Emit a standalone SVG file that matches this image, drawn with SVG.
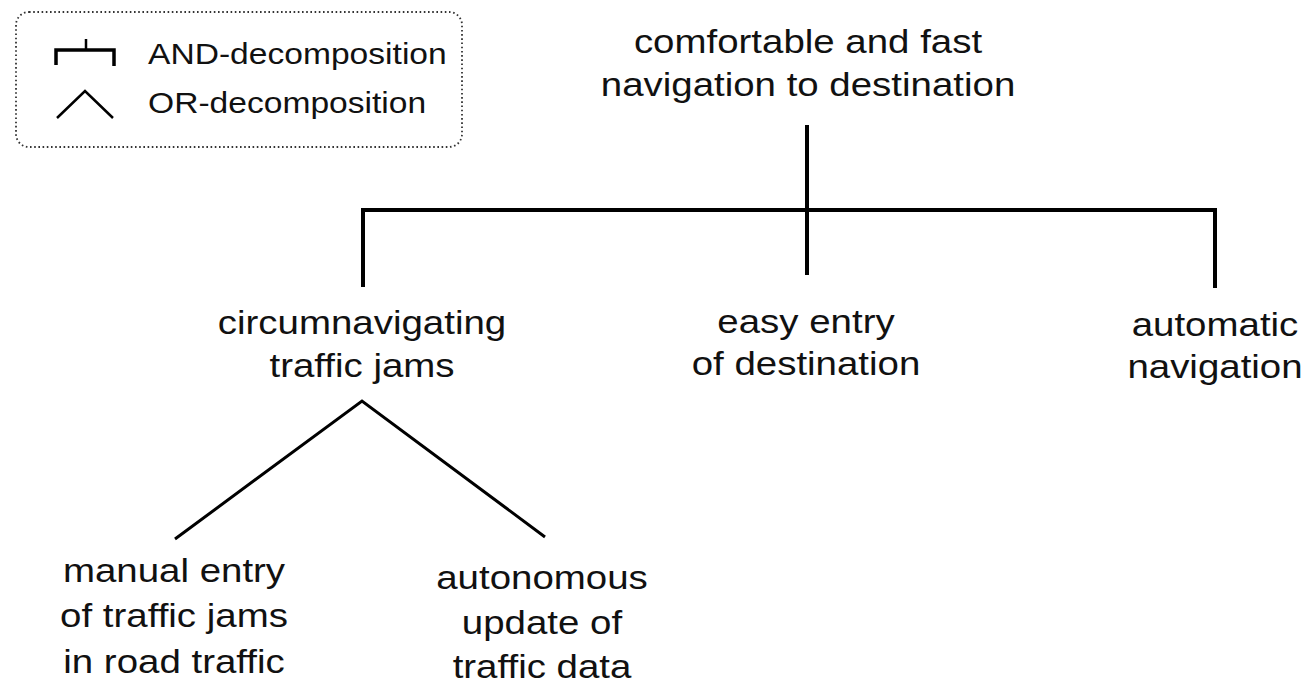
<svg xmlns="http://www.w3.org/2000/svg" width="1313" height="686" viewBox="0 0 1313 686">
  <style>
    .lbl { font-family: "Liberation Sans", Arial, sans-serif; font-size: 33px; fill: #111; text-anchor: middle; }
    .leg { font-family: "Liberation Sans", Arial, sans-serif; font-size: 30px; fill: #111; }
    .con { fill: none; stroke: #000; stroke-width: 4; }
    .or { fill: none; stroke: #000; stroke-width: 3; }
  </style>
  <rect width="1313" height="686" fill="#fff"/>
  <g id="legend">
    <rect x="16" y="12" width="446" height="135" rx="13" ry="13" fill="none" stroke="#333" stroke-width="1.8" stroke-dasharray="1.6 2.6"/>
    <path d="M56,65 V50 H114 V66" fill="none" stroke="#000" stroke-width="3.5"/>
    <line x1="86" y1="39" x2="86" y2="50" stroke="#000" stroke-width="2.5"/>
    <text class="leg" transform="translate(148,0) scale(1.12,1)" x="0" y="64">AND-decomposition</text>
    <polyline points="57,118 85,91 113,118" fill="none" stroke="#000" stroke-width="2.5"/>
    <text class="leg" transform="translate(148,0) scale(1.12,1)" x="0" y="113">OR-decomposition</text>
  </g>
  <g id="connectors">
    <line class="con" x1="807" y1="125" x2="807" y2="275"/>
    <path class="con" d="M363,287 V210 H1215 V288"/>
    <polyline class="or" points="175,539 362,401 545,537"/>
  </g>
  <g id="root">
    <text class="lbl" transform="translate(808,0) scale(1.165,1)"><tspan x="0" y="53">comfortable and fast</tspan><tspan x="0" y="96">navigation to destination</tspan></text>
  </g>
  <g id="circumnavigating">
    <text class="lbl" transform="translate(362,0) scale(1.165,1)"><tspan x="0" y="334">circumnavigating</tspan><tspan x="0" y="377">traffic jams</tspan></text>
  </g>
  <g id="easy-entry">
    <text class="lbl" transform="translate(806,0) scale(1.165,1)"><tspan x="0" y="333">easy entry</tspan><tspan x="0" y="375">of destination</tspan></text>
  </g>
  <g id="automatic">
    <text class="lbl" transform="translate(1215,0) scale(1.165,1)"><tspan x="0" y="336">automatic</tspan><tspan x="0" y="378">navigation</tspan></text>
  </g>
  <g id="manual-entry">
    <text class="lbl" transform="translate(174,0) scale(1.165,1)"><tspan x="0" y="582">manual entry</tspan><tspan x="0" y="627">of traffic jams</tspan><tspan x="0" y="673">in road traffic</tspan></text>
  </g>
  <g id="autonomous-update">
    <text class="lbl" transform="translate(542,0) scale(1.165,1)"><tspan x="0" y="589">autonomous</tspan><tspan x="0" y="634">update of</tspan><tspan x="0" y="678">traffic data</tspan></text>
  </g>
</svg>
